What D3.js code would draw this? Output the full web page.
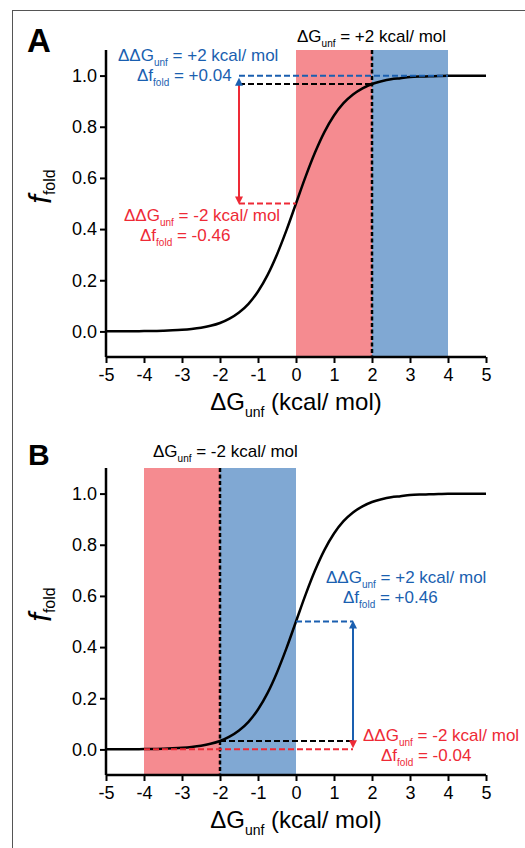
<!DOCTYPE html>
<html>
<head>
<meta charset="utf-8">
<script src="https://cdn.jsdelivr.net/npm/d3@7/dist/d3.min.js"></script>
<style>
html,body{margin:0;padding:0;background:#fff;}
svg{display:block;font-family:"Liberation Sans",Arial,sans-serif;}
</style>
</head>
<body>
<svg id="chart" width="525" height="848"></svg>
<script>
// ---- data ----
const dG = [-5,-4.75,-4.5,-4.25,-4,-3.75,-3.5,-3.25,-3,-2.75,-2.5,-2.25,-2,-1.75,-1.5,-1.25,-1,-0.75,-0.5,-0.25,0,
            0.25,0.5,0.75,1,1.25,1.5,1.75,2,2.25,2.5,2.75,3,3.25,3.5,3.75,4,4.25,4.5,4.75,5];
const fFold = [0.0002,0.0003,0.0005,0.0008,0.0012,0.0018,0.0027,0.0042,0.0063,0.0096,0.0145,0.022,0.033,0.050,0.074,0.108,0.156,0.220,0.301,0.396,0.500,
               0.604,0.699,0.780,0.844,0.892,0.926,0.950,0.967,0.978,0.986,0.990,0.994,0.996,0.997,0.998,0.999,0.9992,0.9995,0.9997,0.9998];
const xTicks = [-5,-4,-3,-2,-1,0,1,2,3,4,5];
const yTicks = [0.0,0.2,0.4,0.6,0.8,1.0];
// panel A: dG = +2, mutations ±2
const bandsA = [{x0:0,x1:2,c:"red"},{x0:2,x1:4,c:"blue"}];
const refA = 2, refFA = 0.967, plusFA = 0.999, minusFA = 0.50, arrowXA = -1.5;
// panel B: dG = -2
const bandsB = [{x0:-4,x1:-2,c:"red"},{x0:-2,x1:0,c:"blue"}];
const refB = -2, refFB = 0.033, plusFB = 0.50, minusFB = 0.001, arrowXB = 1.5;

const RED = "#ee2a36", BLUE = "#1a5fb0", RFILL = "#f58b90", BFILL = "#80a8d3";

const svg = d3.select("#chart");
// frame
svg.append("rect").attr("x",12.5).attr("y",10.5).attr("width",600).attr("height",900)
  .attr("fill","none").attr("stroke","#555").attr("stroke-width",1);

function subText(g, x, y, parts, size, color, anchor){
  const t = g.append("text").attr("x",x).attr("y",y).attr("fill",color)
    .attr("font-size",size).attr("text-anchor",anchor||"start");
  parts.forEach(p=>{
    if(p.sub){
      t.append("tspan").attr("font-size",p.size||size*0.6).attr("dy",size*0.28).text(p.t);
    } else {
      t.append("tspan").attr("dy",p.back? -size*0.28:0).text(p.t);
    }
  });
  return t;
}

function panel(top, bottom, bands, ref){
  const x = d3.scaleLinear().domain([-5,5]).range([106,486]);
  const y = d3.scaleLinear().domain([-0.1,1.1]).range([bottom, top]);
  const g = svg.append("g");
  const cmap = {red:RFILL, blue:BFILL};
  g.selectAll("rect.band").data(bands).enter().append("rect")
    .attr("x",d=>x(d.x0)).attr("width",d=>x(d.x1)-x(d.x0))
    .attr("y",y(1.1)).attr("height",y(-0.1)-y(1.1)).attr("fill",d=>cmap[d.c]);
  g.append("line").attr("x1",x(ref)).attr("x2",x(ref)).attr("y1",y(1.1)).attr("y2",y(-0.1))
    .attr("stroke","#000").attr("stroke-width",2.5).attr("stroke-dasharray","4,2.5");
  const line = d3.line().x((d,i)=>x(dG[i])).y(d=>y(d)).curve(d3.curveMonotoneX);
  g.append("path").datum(fFold).attr("d",line).attr("fill","none").attr("stroke","#000").attr("stroke-width",2.5);
  return {g,x,y};
}

const hyph = f => d => f(d).replace("\u2212","-");

function axes(p, top, bottom){
  const {g,x,y} = p;
  const xa = g.append("g").attr("transform",`translate(0,${bottom})`)
    .call(d3.axisBottom(x).tickValues(xTicks).tickSize(6).tickPadding(5).tickFormat(hyph(d3.format("d"))));
  const ya = g.append("g").attr("transform",`translate(106,0)`)
    .call(d3.axisLeft(y).tickValues(yTicks).tickSize(6).tickPadding(3).tickFormat(hyph(d3.format(".1f"))));
  [xa,ya].forEach(a=>{
    a.select(".domain").attr("stroke","#000").attr("stroke-width",2.5)
      .attr("d", a===xa ? `M${x(-5)},0H${x(5)}` : `M0,${y(1.1)}V${y(-0.1)}`);
    a.selectAll(".tick line").attr("stroke","#000").attr("stroke-width",2);
    a.selectAll(".tick text").attr("font-size",18).attr("fill","#000")
      .attr("font-family","'Liberation Sans',Arial,sans-serif");
  });
  subText(g, x(0), bottom+53, [{t:"ΔG"},{t:"unf",sub:true,size:14},{t:" (kcal/ mol)",back:true}], 24, "#000","middle");
  const yl = g.append("text").attr("transform",`translate(51,${(top+bottom)/2-17}) rotate(-90)`)
    .attr("text-anchor","middle").attr("fill","#000");
  yl.append("tspan").attr("font-size",31).attr("font-style","italic").text("f");
  yl.append("tspan").attr("font-size",16).attr("dy",4).text("fold");
}

function tri(g, cx, tipY, dir, color){
  const h = 8, w = 4;
  g.append("path").attr("d",`M${cx},${tipY}L${cx-w},${tipY-dir*h}L${cx+w},${tipY-dir*h}Z`).attr("fill",color);
}

// ---------------- Panel A ----------------
const A = panel(50, 357, bandsA, refA);
{
  const {g,x,y} = A;
  const ax = x(arrowXA);
  g.append("line").attr("x1",ax).attr("x2",x(refA)).attr("y1",y(refFA)).attr("y2",y(refFA))
    .attr("stroke","#000").attr("stroke-width",2).attr("stroke-dasharray","6,3");
  g.append("line").attr("x1",ax).attr("x2",x(4)).attr("y1",y(plusFA)).attr("y2",y(plusFA))
    .attr("stroke",BLUE).attr("stroke-width",2).attr("stroke-dasharray","6,3");
  g.append("line").attr("x1",ax).attr("x2",x(0)).attr("y1",y(minusFA)).attr("y2",y(minusFA))
    .attr("stroke",RED).attr("stroke-width",2).attr("stroke-dasharray","6,3");
  g.append("line").attr("x1",ax).attr("x2",ax).attr("y1",y(refFA)).attr("y2",y(minusFA)-6)
    .attr("stroke",RED).attr("stroke-width",2);
  tri(g, ax, y(minusFA)+1, 1, RED);
  tri(g, ax, y(plusFA)+2, -1, BLUE);
  axes(A, 50, 357);
  svg.append("text").attr("x",27).attr("y",52).attr("font-size",33).attr("font-weight","bold").text("A");
  subText(g, 297, 42, [{t:"ΔG"},{t:"unf",sub:true,size:10},{t:" = +2 kcal/ mol",back:true}], 17, "#000");
  subText(g, 118, 61, [{t:"ΔΔG"},{t:"unf",sub:true,size:10},{t:" = +2 kcal/ mol",back:true}], 17, BLUE);
  subText(g, 137, 81, [{t:"Δf"},{t:"fold",sub:true,size:10},{t:" = +0.04",back:true}], 17, BLUE);
  subText(g, 124, 221, [{t:"ΔΔG"},{t:"unf",sub:true,size:10},{t:" = -2 kcal/ mol",back:true}], 17, RED);
  subText(g, 140, 241, [{t:"Δf"},{t:"fold",sub:true,size:10},{t:" = -0.46",back:true}], 17, RED);
}

// ---------------- Panel B ----------------
const B = panel(468, 775, bandsB, refB);
{
  const {g,x,y} = B;
  const ax = x(arrowXB);
  g.append("line").attr("x1",x(refB)).attr("x2",ax).attr("y1",y(refFB)).attr("y2",y(refFB))
    .attr("stroke","#000").attr("stroke-width",2).attr("stroke-dasharray","6,3");
  g.append("line").attr("x1",x(-4)).attr("x2",ax).attr("y1",y(minusFB)).attr("y2",y(minusFB))
    .attr("stroke",RED).attr("stroke-width",2).attr("stroke-dasharray","6,3");
  g.append("line").attr("x1",x(0)).attr("x2",ax).attr("y1",y(plusFB)).attr("y2",y(plusFB))
    .attr("stroke",BLUE).attr("stroke-width",2).attr("stroke-dasharray","6,3");
  g.append("line").attr("x1",ax).attr("x2",ax).attr("y1",y(refFB)).attr("y2",y(plusFB)+6)
    .attr("stroke",BLUE).attr("stroke-width",2);
  tri(g, ax, y(plusFB)-1, -1, BLUE);
  tri(g, ax, y(minusFB)-1, 1, RED);
  axes(B, 468, 775);
  svg.append("text").attr("x",28).attr("y",465).attr("font-size",30).attr("font-weight","bold").text("B");
  subText(g, 153, 457, [{t:"ΔG"},{t:"unf",sub:true,size:10},{t:" = -2 kcal/ mol",back:true}], 17, "#000");
  subText(g, 326, 583, [{t:"ΔΔG"},{t:"unf",sub:true,size:10},{t:" = +2 kcal/ mol",back:true}], 17, BLUE);
  subText(g, 343, 603, [{t:"Δf"},{t:"fold",sub:true,size:10},{t:" = +0.46",back:true}], 17, BLUE);
  subText(g, 363, 741, [{t:"ΔΔG"},{t:"unf",sub:true,size:10},{t:" = -2 kcal/ mol",back:true}], 17, RED);
  subText(g, 381, 761, [{t:"Δf"},{t:"fold",sub:true,size:10},{t:" = -0.04",back:true}], 17, RED);
}
</script>
</body>
</html>
